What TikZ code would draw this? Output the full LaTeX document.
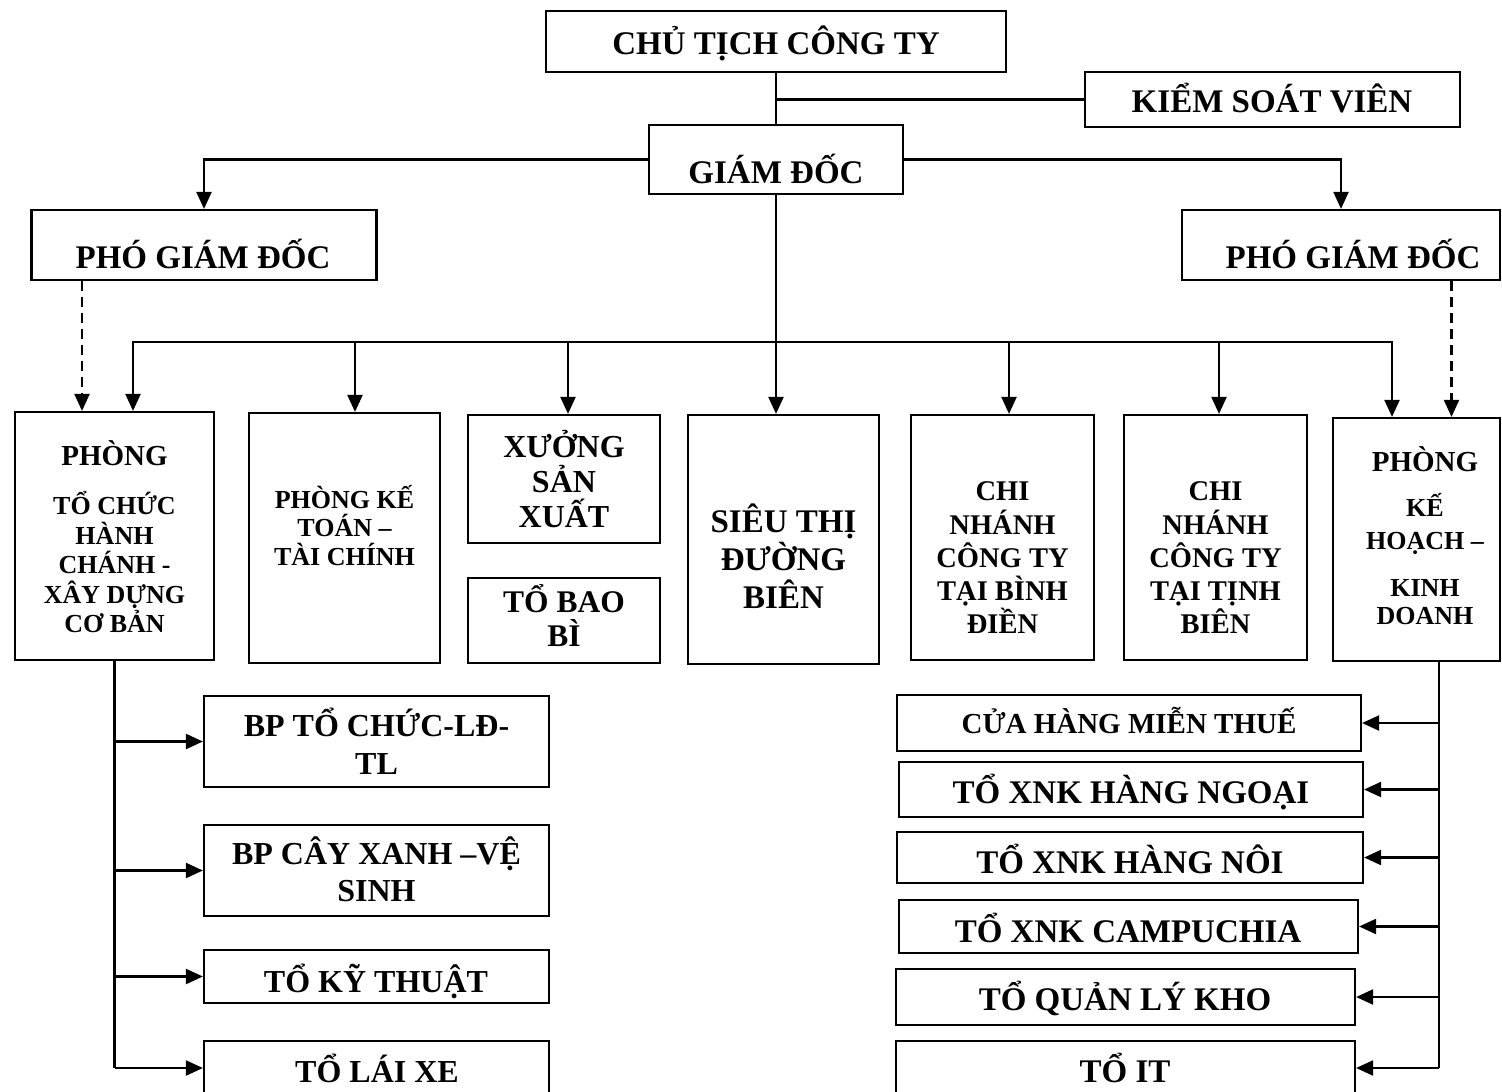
\documentclass[tikz,border=0pt]{standalone}
\usepackage{fontspec}
\setmainfont{Liberation Serif}
\usetikzlibrary{arrows.meta,calc}

\begin{document}
\begin{tikzpicture}[x=1pt,y=-1pt,>={Triangle[length=17pt,width=15pt]},
  bx/.style={draw,line width=2.2pt,inner sep=0pt},
  ln/.style={line width=2.2pt},
  dashline/.style={dash pattern=on 10pt off 6pt},
  txt/.style={inner sep=0pt,align=center},
  t33/.style={txt,font=\bfseries\fontsize{33}{38}\selectfont},
  t32/.style={txt,font=\bfseries\fontsize{32}{35}\selectfont},
  t29/.style={txt,font=\bfseries\fontsize{29}{33}\selectfont},
  t28/.style={txt,font=\bfseries\fontsize{28.5}{33.25}\selectfont},
  t26/.style={txt,font=\bfseries\fontsize{26}{28.5}\selectfont}]
\clip (0,0) rectangle (1502,1092);
% top
\node[bx,minimum width=460pt,minimum height=61pt] (ct) at (776,41.5) {};
\node[bx,minimum width=375pt,minimum height=55pt] (ksv) at (1272.5,99.5) {};
\node[bx,minimum width=254pt,minimum height=69pt] (gd) at (776,159.5) {};
\node[bx,minimum width=345pt,minimum height=70pt] (pgd1) at (204,245) {};
\node[bx,minimum width=318pt,minimum height=70pt] (pgd2) at (1341,245) {};
\node[t33,anchor=base] (ct-t) at (776,54) {CHỦ TỊCH CÔNG TY};
\node[t33,anchor=base] (ksv-t) at (1272,112) {KIỂM SOÁT VIÊN};
\node[t33,anchor=base] (gd-t) at (776,183) {GIÁM ĐỐC};
\node[t33,anchor=base] (pgd1-t) at (203,268) {PHÓ GIÁM ĐỐC};
\node[t33,anchor=base] (pgd2-t) at (1353,268) {PHÓ GIÁM ĐỐC};
% middle row
\node[bx,minimum width=199pt,minimum height=248pt] (ptc) at (114.5,536) {};
\node[bx,minimum width=191pt,minimum height=250pt] (pkt) at (344.5,538) {};
\node[bx,minimum width=192pt,minimum height=128pt] (xsx) at (564,479) {};
\node[bx,minimum width=192pt,minimum height=85pt] (tbb) at (564,620.5) {};
\node[bx,minimum width=191pt,minimum height=249pt] (st) at (783.5,539.5) {};
\node[bx,minimum width=183pt,minimum height=245pt] (cnbd) at (1002.5,537.5) {};
\node[bx,minimum width=183pt,minimum height=245pt] (cntb) at (1215.5,537.5) {};
\node[bx,minimum width=167pt,minimum height=243pt] (pkh) at (1416.5,539.5) {};
\node[t26,font=\bfseries\fontsize{26}{29.5}\selectfont] (ptc-t) at (114.5,537) {{\fontsize{29}{29.5}\selectfont PHÒNG}\\[19.5pt]TỔ CHỨC\\HÀNH\\CHÁNH -\\XÂY DỰNG\\CƠ BẢN};
\node[t26] (pkt-t) at (344.5,525.5) {PHÒNG KẾ\\TOÁN –\\TÀI CHÍNH};
\node[t32] (xsx-t) at (564,479) {XƯỞNG\\SẢN\\XUẤT};
\node[t32,font=\bfseries\fontsize{31.5}{34}\selectfont] (tbb-t) at (564,615.5) {TỔ BAO\\BÌ};
\node[t33] (st-t) at (783.5,556.5) {SIÊU THỊ\\ĐƯỜNG\\BIÊN};
\node[t28] (cnbd-t) at (1002.5,558) {CHI\\NHÁNH\\CÔNG TY\\TẠI BÌNH\\ĐIỀN};
\node[t28] (cntb-t) at (1215.5,558) {CHI\\NHÁNH\\CÔNG TY\\TẠI TỊNH\\BIÊN};
\node[t26,font=\bfseries\fontsize{26}{28}\selectfont] (pkh-t) at (1425,536) {{\fontsize{29}{28}\selectfont PHÒNG}\\[17pt]KẾ\\[5pt]HOẠCH –\\[19pt]KINH\\DOANH};
% left column
\node[bx,minimum width=345pt,minimum height=91pt] (bptc) at (376.5,741.5) {};
\node[bx,minimum width=345pt,minimum height=91pt] (bpcx) at (376.5,870.5) {};
\node[bx,minimum width=345pt,minimum height=53pt] (tkt) at (376.5,976.5) {};
\node[bx,minimum width=345pt,minimum height=54pt] (tlx) at (376.5,1068) {};
\node[t32,font=\bfseries\fontsize{32}{38}\selectfont] (bptc-t) at (376.5,741.5) {BP TỔ CHỨC-LĐ-\\TL};
\node[t32,font=\bfseries\fontsize{32}{37}\selectfont] (bpcx-t) at (376.5,869) {BP CÂY XANH –VỆ\\SINH};
\node[t32,anchor=base] (tkt-t) at (376,992) {TỔ KỸ THUẬT};
\node[t32,anchor=base] (tlx-t) at (377,1082) {TỔ LÁI XE};
% right column
\node[bx,minimum width=464pt,minimum height=56pt] (chmt) at (1129,723) {};
\node[bx,minimum width=464pt,minimum height=55pt] (hng) at (1131,789.5) {};
\node[bx,minimum width=466pt,minimum height=51pt] (hn) at (1130,857.5) {};
\node[bx,minimum width=459pt,minimum height=53pt] (cam) at (1128.5,926.5) {};
\node[bx,minimum width=459pt,minimum height=56pt] (qlk) at (1125.5,997) {};
\node[bx,minimum width=459pt,minimum height=54pt] (it) at (1125.5,1068) {};
\node[t29,anchor=base] (chmt-t) at (1129,733) {CỬA HÀNG MIỄN THUẾ};
\node[t33,anchor=base] (hng-t) at (1131,803) {TỔ XNK HÀNG NGOẠI};
\node[t33,anchor=base] (hn-t) at (1130,873) {TỔ XNK HÀNG NÔI};
\node[t33,anchor=base] (cam-t) at (1128,942) {TỔ XNK CAMPUCHIA};
\node[t33,anchor=base] (qlk-t) at (1125,1010) {TỔ QUẢN LÝ KHO};
\node[t33,anchor=base] (it-t) at (1125,1082) {TỔ IT};
% connectors
\draw[ln] (ct.south) -- (gd.north);
\draw[ln] (ct.south |- ksv.west) -- (ksv.west);
\draw[ln,->] (gd.west) -| (pgd1.north);
\draw[ln,->] (gd.east) -| (pgd2.north);
\draw[ln,->] (gd.south) -- (gd.south |- st.north);
\coordinate (b1) at (133,342);
\coordinate (b2) at (355,342);
\coordinate (b3) at (568,342);
\coordinate (b5) at (1009,342);
\coordinate (b6) at (1219,342);
\coordinate (b7) at (1392,342);
\draw[ln,<->] (b1 |- ptc.north) -- (b1) -- (b7) -- (b7 |- pkh.north);
\draw[ln,->] (b2) -- (b2 |- pkt.north);
\draw[ln,->] (b3) -- (b3 |- xsx.north);
\draw[ln,->] (b5) -- (b5 |- cnbd.north);
\draw[ln,->] (b6) -- (b6 |- cntb.north);
\coordinate (dl) at ([xshift=-122pt]pgd1.south);
\coordinate (dr) at ([xshift=110.5pt]pgd2.south);
\draw[ln,dashline,->] (dl) -- (dl |- ptc.north);
\draw[ln,dashline,->] (dr) -- (dr |- pkh.north);
% left branch
\draw[ln] (ptc.south) -- (ptc.south |- tlx.west);
\draw[ln,->] (ptc.south |- bptc.west) -- (bptc.west);
\draw[ln,->] (ptc.south |- bpcx.west) -- (bpcx.west);
\draw[ln,->] (ptc.south |- tkt.west) -- (tkt.west);
\draw[ln,->] (ptc.south |- tlx.west) -- (tlx.west);
% right branch
\coordinate (kd) at ([xshift=22.5pt]pkh.south);
\draw[ln] (kd) -- (kd |- it.east);
\draw[ln,->] (kd |- chmt.east) -- (chmt.east);
\draw[ln,->] (kd |- hng.east) -- (hng.east);
\draw[ln,->] (kd |- hn.east) -- (hn.east);
\draw[ln,->] (kd |- cam.east) -- (cam.east);
\draw[ln,->] (kd |- qlk.east) -- (qlk.east);
\draw[ln,->] (kd |- it.east) -- (it.east);
\end{tikzpicture}
\end{document}
